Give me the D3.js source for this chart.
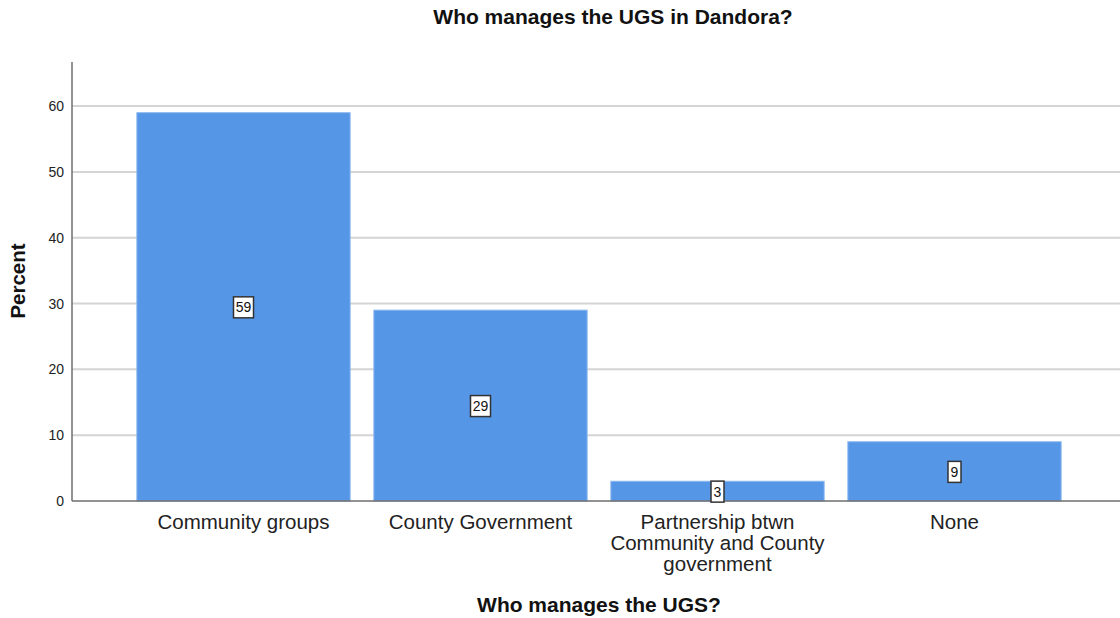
<!DOCTYPE html>
<html>
<head>
<meta charset="utf-8">
<script src="https://cdn.jsdelivr.net/npm/d3@7"></script>
<style>
html,body{margin:0;padding:0;background:#fff;}
svg{display:block;font-family:"Liberation Sans",Arial,sans-serif;}
</style>
</head>
<body>
<svg id="chart" width="1120" height="618"></svg>
<script>
const categories = ["Community groups", "County Government", "Partnership btwn Community and County government", "None"];
const categoryLines = [["Community groups"], ["County Government"], ["Partnership btwn", "Community and County", "government"], ["None"]];
const percents = [59, 29, 3, 9];
const barLabels = ["59", "29", "3", "9"];
const yTicks = [0, 10, 20, 30, 40, 50, 60];

(function() {
const svg = d3.select("#chart");
const mLeft = 72, mRight = 1120, mTop = 62, mBottom = 501;

const x = d3.scaleBand().domain(categories).range([125, 1073]).paddingInner(0.1).paddingOuter(0.05);
const y = d3.scaleLinear().domain([0, 66.7]).range([mBottom, mTop]);

// gridlines
svg.append("g").selectAll("line").data(yTicks.filter(d => d > 0)).join("line")
  .attr("x1", mLeft).attr("x2", mRight)
  .attr("y1", d => y(d)).attr("y2", d => y(d))
  .attr("stroke", "#d4d4d4").attr("stroke-width", 2);

// bars
svg.append("g").selectAll("rect").data(categories).join("rect")
  .attr("x", d => x(d)).attr("width", x.bandwidth())
  .attr("y", (d, i) => y(percents[i])).attr("height", (d, i) => mBottom - y(percents[i]))
  .attr("fill", "#5596e6").attr("stroke", "#8cb8ee").attr("stroke-width", 1);

// axes
const yAxis = svg.append("g").attr("transform", `translate(${mLeft},0)`)
  .call(d3.axisLeft(y).tickValues(yTicks).tickSize(0).tickPadding(8));
yAxis.select(".domain").attr("stroke", "#6e6e6e").attr("stroke-width", 1.5).attr("d", `M0,${mTop}V${mBottom}`);
yAxis.selectAll("text").attr("font-size", 14).attr("fill", "#222").attr("font-family", "Liberation Sans, Arial, sans-serif");

svg.append("line").attr("x1", mLeft).attr("x2", mRight).attr("y1", mBottom).attr("y2", mBottom)
  .attr("stroke", "#6e6e6e").attr("stroke-width", 1.5);

// category labels
const cat = svg.append("g").selectAll("text").data(categories).join("text")
  .attr("x", d => x(d) + x.bandwidth() / 2).attr("y", 529)
  .attr("text-anchor", "middle").attr("font-size", 20.5).attr("fill", "#222");
cat.each(function(d, i) {
  const t = d3.select(this);
  categoryLines[i].forEach((ln, j) => {
    t.append("tspan").attr("x", x(d) + x.bandwidth() / 2).attr("dy", j === 0 ? 0 : 21).text(ln);
  });
});

// bar value labels
const lbl = svg.append("g").selectAll("g").data(categories).join("g")
  .attr("transform", (d, i) => `translate(${x(d) + x.bandwidth() / 2},${y(percents[i] / 2)})`);
lbl.each(function(d, i) {
  const g = d3.select(this);
  const w = barLabels[i].length === 1 ? 13 : 20;
  g.append("rect").attr("x", -w / 2).attr("y", -10).attr("width", w).attr("height", 21)
    .attr("fill", "#fff").attr("stroke", "#333").attr("stroke-width", 1.5);
  g.append("text").attr("text-anchor", "middle").attr("y", 5.5).attr("font-size", 14).attr("fill", "#111").text(barLabels[i]);
});

// titles
svg.append("text").attr("x", 613).attr("y", 24).attr("text-anchor", "middle")
  .attr("font-size", 21).attr("font-weight", "bold").attr("fill", "#111").text("Who manages the UGS in Dandora?");
svg.append("text").attr("x", 599).attr("y", 612).attr("text-anchor", "middle")
  .attr("font-size", 21).attr("font-weight", "bold").attr("fill", "#111").text("Who manages the UGS?");
svg.append("text").attr("transform", "translate(25,281) rotate(-90)").attr("text-anchor", "middle")
  .attr("font-size", 20.5).attr("font-weight", "bold").attr("fill", "#111").text("Percent");
})();
</script>
</body>
</html>
